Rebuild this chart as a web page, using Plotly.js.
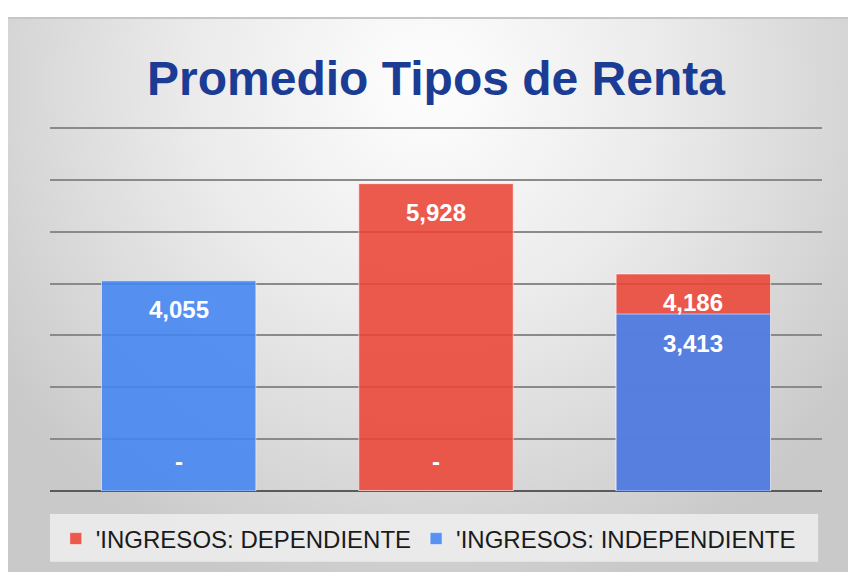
<!DOCTYPE html>
<html>
<head>
<meta charset="utf-8">
<script src="https://cdn.plot.ly/plotly-3.0.1.min.js"></script>
<style>
  html, body { margin: 0; padding: 0; background: #ffffff; }
  #bg {
    position: absolute; left: 8px; top: 17px; width: 840px; height: 555px;
    background: radial-gradient(ellipse 62% 95% at 50% 12%, #fefefe 0%, #ebebeb 45%, #d9d9d9 75%, #c9c9c9 100%);
    border-top: 2px solid #c6c6c6;
    box-sizing: border-box;
  }
  #chart { position: absolute; left: 0; top: 0; width: 848px; height: 572px; }
</style>
</head>
<body>
<div id="bg"></div>
<div id="chart"></div>
<script>
// ---- data ----
const categories = ['Dependiente', 'Independiente', 'Ambos'];
const dependiente = [0, 5928, 4186];
const independiente = [4055, 0, 3413];
const seriesNames = ["'INGRESOS: DEPENDIENTE", "'INGRESOS: INDEPENDIENTE"];
const chartTitle = 'Promedio Tipos de Renta';

const FONT = 'Liberation Sans, Arial, Helvetica, sans-serif';
const fmt = v => v === 0 ? '-' : v.toLocaleString('en-US');

const traceDep = {
  type: 'bar', x: categories, y: dependiente, name: seriesNames[0],
  marker: { color: 'rgba(234,67,53,0.88)', line: { color: 'rgba(255,255,255,0.55)', width: 1 } },
  hoverinfo: 'skip'
};
const traceInd = {
  type: 'bar', x: categories, y: independiente, name: seriesNames[1],
  marker: { color: 'rgba(66,133,244,0.88)', line: { color: 'rgba(255,255,255,0.55)', width: 1 } },
  hoverinfo: 'skip'
};

// data labels (inside end; zero values shown as "-" near the base)
const annotations = [];
[dependiente, independiente].forEach(series => {
  series.forEach((v, i) => {
    annotations.push({
      x: categories[i], y: v, xref: 'x', yref: 'y',
      text: fmt(v), showarrow: false,
      yshift: v === 0 ? 30 : -29,
      font: { family: FONT, size: 24, color: '#ffffff', weight: 'bold' }
    });
  });
});

const layout = {
  width: 848, height: 572,
  paper_bgcolor: 'rgba(0,0,0,0)', plot_bgcolor: 'rgba(0,0,0,0)',
  margin: { l: 50, r: 26, t: 126, b: 80 },
  barmode: 'overlay', bargap: 0.4,
  title: {
    text: '<b>' + chartTitle + '</b>',
    x: 0.5, xref: 'paper', y: 1 - 78 / 572, yanchor: 'middle',
    font: { family: FONT, size: 48, color: '#1b3c94' }
  },
  xaxis: { showticklabels: false, showgrid: false, zeroline: false, ticks: '', showline: false },
  yaxis: {
    range: [0, 7040], tick0: 0, dtick: 1000, showticklabels: false, ticks: '',
    showgrid: true, gridcolor: '#8a8a8a', gridwidth: 2,
    zeroline: true, zerolinecolor: '#5a5a5a', zerolinewidth: 2
  },
  showlegend: true,
  legend: {
    orientation: 'h', x: 0.49, xanchor: 'center', y: (492 - 539) / 366, yanchor: 'middle',
    bgcolor: 'rgba(0,0,0,0)', font: { family: FONT, size: 24, color: '#1a1a1a' },
    traceorder: 'normal', itemwidth: 30
  },
  shapes: [{
    type: 'rect', xref: 'paper', yref: 'paper', layer: 'below',
    x0: 0, x1: 0.995, y0: (492 - 563) / 366, y1: (492 - 515) / 366,
    fillcolor: 'rgba(238,238,238,0.85)', line: { width: 0 }
  }],
  annotations: annotations
};

Plotly.newPlot('chart', [traceDep, traceInd], layout, { displayModeBar: false, staticPlot: true });
</script>
</body>
</html>
